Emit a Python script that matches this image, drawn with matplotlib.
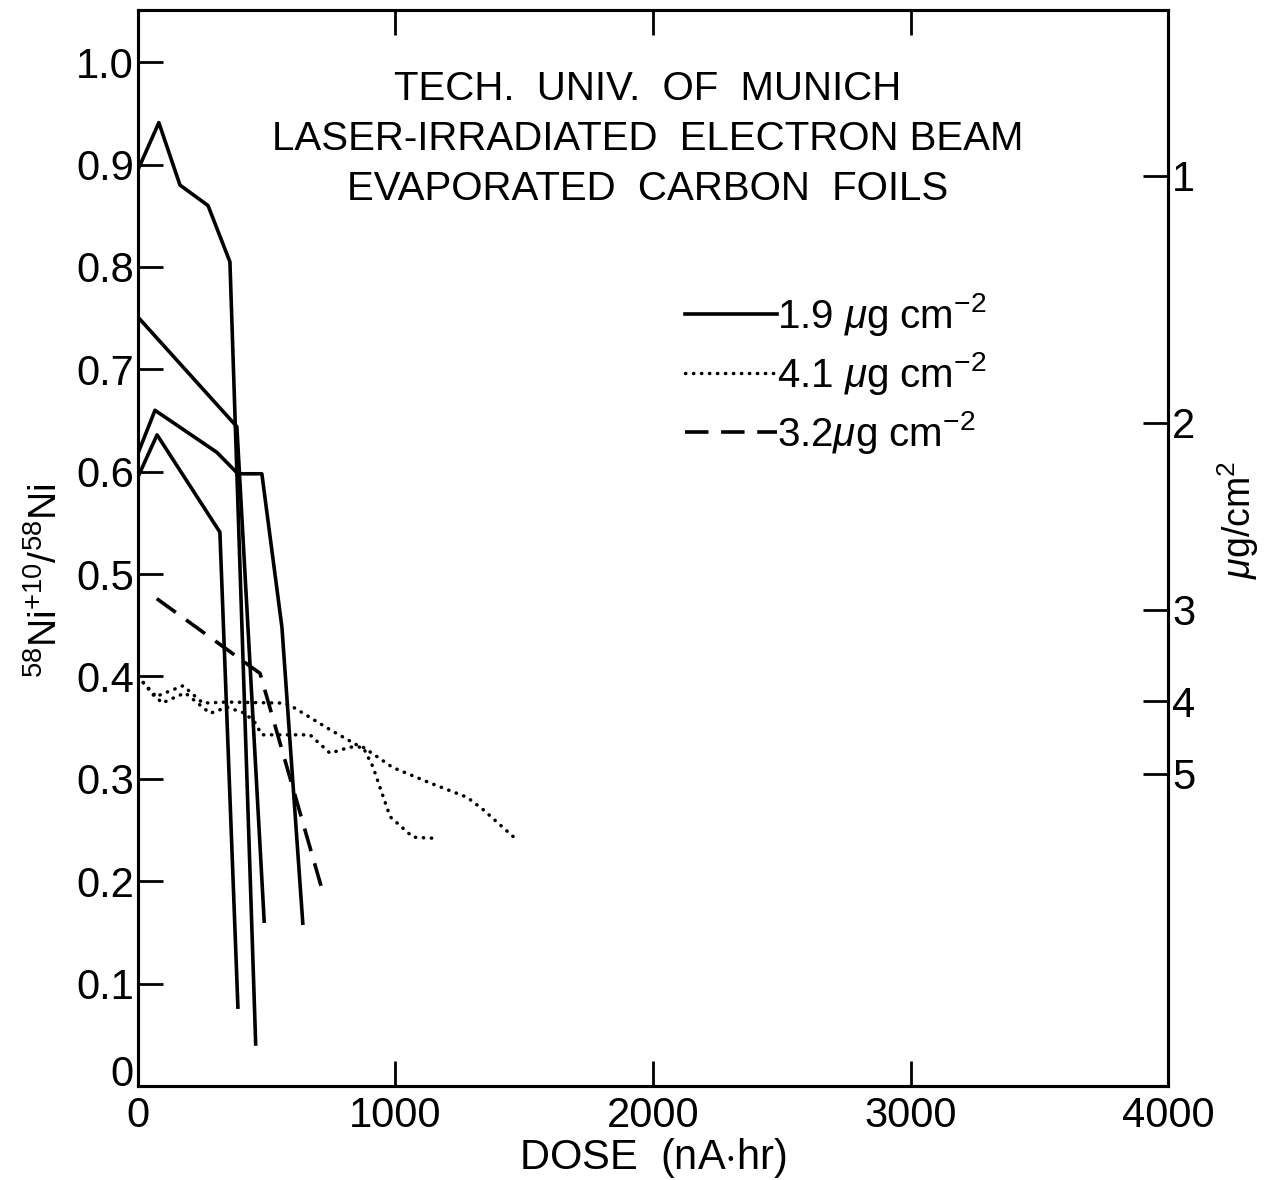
import matplotlib
matplotlib.use("Agg")
import matplotlib.pyplot as plt

FONT = ['Liberation Sans', 'DejaVu Sans']
plt.rcParams['font.family'] = FONT
plt.rcParams['mathtext.fontset'] = 'custom'
plt.rcParams['mathtext.rm'] = 'Liberation Sans'
plt.rcParams['mathtext.it'] = 'Liberation Sans:italic'

# ---- data (dose in nA*hr, ratio) ----
solid1_x = [0, 81, 163, 272, 357, 457]
solid1_y = [0.895, 0.941, 0.880, 0.860, 0.805, 0.041]
solid2_x = [0, 384, 490]
solid2_y = [0.751, 0.644, 0.161]
solid3_x = [0, 66, 306, 388, 481, 559, 640]
solid3_y = [0.618, 0.660, 0.619, 0.598, 0.598, 0.448, 0.159]
solid4_x = [0, 74, 318, 388]
solid4_y = [0.595, 0.636, 0.541, 0.077]

dash_x = [73, 474, 717]
dash_y = [0.476, 0.403, 0.190]

dot1_x = [0, 93, 183, 280, 346, 416, 454, 481, 668, 746, 823, 874, 912, 979, 1068, 1146]
dot1_y = [0.400, 0.374, 0.384, 0.364, 0.370, 0.364, 0.355, 0.343, 0.343, 0.325, 0.331, 0.331,
          0.312, 0.263, 0.243, 0.242]
dot2_x = [0, 66, 175, 252, 346, 563, 590, 746, 851, 874, 990, 1134, 1278, 1340, 1464]
dot2_y = [0.400, 0.380, 0.391, 0.374, 0.375, 0.374, 0.372, 0.348, 0.333, 0.331, 0.311,
          0.296, 0.282, 0.270, 0.242]

left_ticks = [0, 0.1, 0.2, 0.3, 0.4, 0.5, 0.6, 0.7, 0.8, 0.9, 1.0]
left_labels = ['0', '0.1', '0.2', '0.3', '0.4', '0.5', '0.6', '0.7', '0.8', '0.9', '1.0']
x_ticks = [0, 1000, 2000, 3000, 4000]
x_labels = ['0', '1000', '2000', '3000', '4000']
right_tick_pos = [0.889, 0.648, 0.465, 0.376, 0.305]
right_labels = ['1', '2', '3', '4', '5']

legend_labels = [r'1.9 $\mu$g cm$^{-2}$', r'4.1 $\mu$g cm$^{-2}$', r'3.2$\mu$g cm$^{-2}$']
title_lines = ['TECH.  UNIV.  OF  MUNICH',
               'LASER-IRRADIATED  ELECTRON BEAM',
               'EVAPORATED  CARBON  FOILS']

fig = plt.figure(figsize=(12.66, 11.8), dpi=100)
ax = fig.add_axes([0.109, 0.0797, 0.8136, 0.9118])

lw = 2.6
h1, = ax.plot(solid1_x, solid1_y, color='black', lw=lw)
ax.plot(solid2_x, solid2_y, color='black', lw=lw)
ax.plot(solid3_x, solid3_y, color='black', lw=lw)
ax.plot(solid4_x, solid4_y, color='black', lw=lw)
h3, = ax.plot(dash_x, dash_y, color='black', lw=lw, dashes=(6.5, 3.5))
h2, = ax.plot(dot1_x, dot1_y, color='black', lw=2.5, dashes=(0.1, 2.2),
              dash_capstyle='round')
ax.plot(dot2_x, dot2_y, color='black', lw=2.5, dashes=(0.1, 2.2), dash_capstyle='round')

ax.set_xlim(0, 4000)
ax.set_ylim(0, 1.051)

ax.set_yticks(left_ticks)
ax.set_yticklabels(left_labels)
ax.set_xticks(x_ticks)
ax.set_xticklabels(x_labels)
ax.tick_params(axis='both', direction='in', length=18, width=2, labelsize=30, pad=4)
ax.tick_params(axis='x', top=True, pad=7)
ax.tick_params(axis='y', pad=3)
ax.get_yticklabels()[0].set_va('baseline')
for s in ax.spines.values():
    s.set_linewidth(2.2)

ax2 = ax.twinx()
ax2.set_ylim(ax.get_ylim())
ax2.set_yticks(right_tick_pos)
ax2.set_yticklabels(right_labels)
ax2.tick_params(axis='y', direction='in', length=18, width=2, labelsize=30, pad=3)
for s in ax2.spines.values():
    s.set_linewidth(2.2)

ax.set_xlabel(r'DOSE  (nA$\cdot$hr)', fontsize=30, labelpad=0)
ax.set_ylabel(r'$^{58}$Ni$^{+10}$/$^{58}$Ni', fontsize=28)
ax.yaxis.set_label_coords(-0.071, 0.47)
ax2.set_ylabel(r'$\mu$g/cm$^{2}$', fontsize=27, rotation=90)
ax2.yaxis.set_label_coords(1.046, 0.526)

for i, t in enumerate(title_lines):
    ax.text(0.495, 0.927 - i * 0.0465, t, transform=ax.transAxes, ha='center',
            va='center', fontsize=29)

leg = ax.legend([h1, h2, h3], legend_labels, loc='upper left',
                bbox_to_anchor=(0.515, 0.754), frameon=False, fontsize=29,
                handlelength=2.3, handletextpad=0.0, labelspacing=0.3,
                borderaxespad=0)

fig.savefig('out.png', dpi=100)
